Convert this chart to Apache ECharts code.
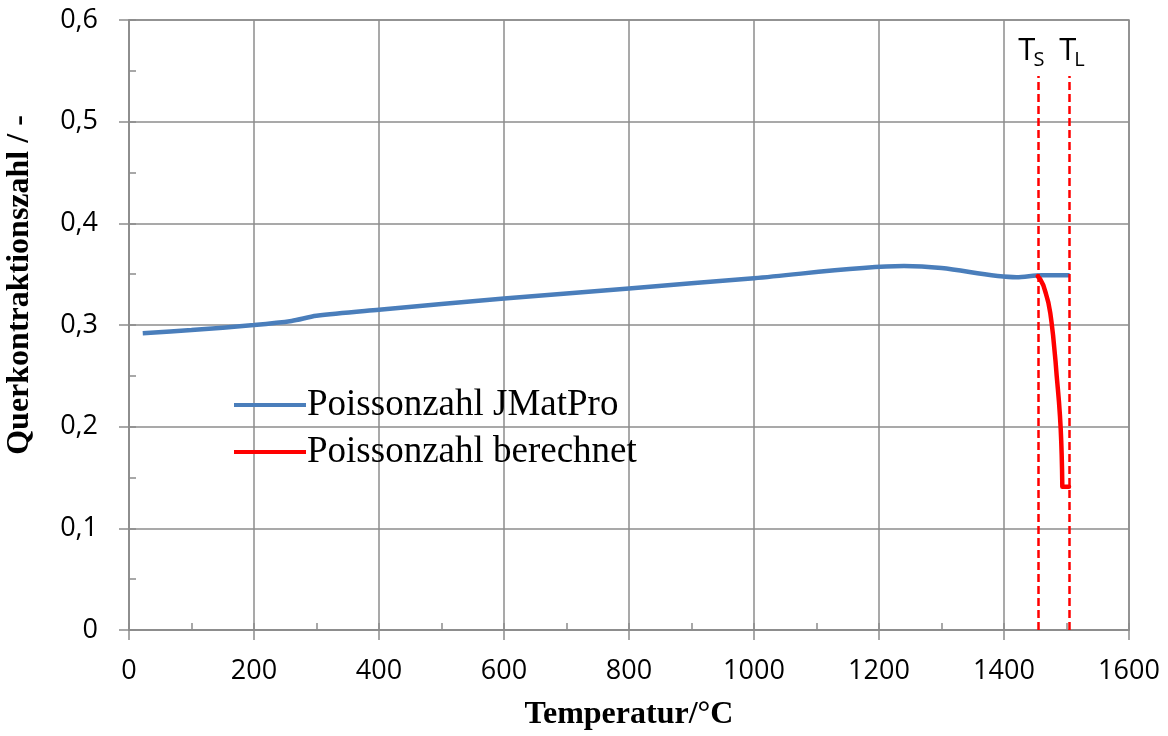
<!DOCTYPE html>
<html>
<head>
<meta charset="utf-8">
<script src="https://cdn.jsdelivr.net/npm/echarts@6/dist/echarts.min.js"></script>
<style>html,body{margin:0;padding:0;background:#fff}#c{width:1168px;height:736px}</style>
</head>
<body>
<div id="c"></div>
<script>
// Poisson's ratio over temperature
const jmatproT = [22, 100, 200, 260, 300, 400, 600, 800, 1000, 1240, 1300, 1420, 1460, 1505];
const jmatproV = [0.292, 0.295, 0.300, 0.304, 0.309, 0.315, 0.326, 0.336, 0.346, 0.358, 0.356, 0.347, 0.349, 0.349];
const calcT = [1454, 1458, 1463, 1467, 1471, 1474, 1476, 1478.5, 1480.5, 1482.5, 1484.3, 1486.2, 1488, 1489.5, 1490.7, 1491.6, 1492.3, 1492.9, 1493.3, 1504];
const calcV = [0.348, 0.345, 0.339, 0.331, 0.322, 0.312, 0.303, 0.290, 0.277, 0.264, 0.250, 0.237, 0.224, 0.211, 0.198, 0.185, 0.172, 0.157, 0.141, 0.141];
const solidusT = 1455;
const liquidusT = 1504;
const markerTop = 0.545;

const pairs = (a, b) => a.map((v, i) => [v, b[i]]);
const gridGray = '#8c8c8c';
const labelFont = { fontFamily: 'Open Sans', fontSize: 27, color: '#000' };
const titleFont = { fontFamily: 'Liberation Serif', fontWeight: 'bold', fontSize: 32, color: '#000' };

const chart = echarts.init(document.getElementById('c'), null, { renderer: 'canvas' });
chart.setOption({
  animation: false,
  backgroundColor: '#fff',
  grid: { left: 129, right: 39, top: 20, bottom: 104, show: true, borderColor: gridGray, borderWidth: 1.5 },
  legend: {
    left: 229, top: 380, orient: 'vertical', itemGap: 7,
    itemWidth: 72, itemHeight: 4,
    icon: 'path://M0,0 L18,0 L18,1 L0,1 Z',
    textStyle: { fontFamily: 'Liberation Serif', fontSize: 37, lineHeight: 40, color: '#000', padding: [0, 0, 0, -4] },
    data: ['Poissonzahl JMatPro', 'Poissonzahl berechnet']
  },
  graphic: [{
    type: 'text', x: 20, y: 285, rotation: Math.PI / 2,
    style: { text: 'Querkontraktionszahl / -', align: 'center', verticalAlign: 'middle',
             fontFamily: titleFont.fontFamily, fontWeight: 'bold', fontSize: 32, fill: '#000' }
  }],
  xAxis: [{
    type: 'value', min: 0, max: 1600, interval: 200,
    name: 'Temperatur/°C', nameLocation: 'middle', nameGap: 69,
    nameTextStyle: titleFont,
    axisLine: { show: true, lineStyle: { color: gridGray, width: 1.5 } },
    axisTick: { show: true, length: 10, lineStyle: { color: gridGray, width: 1.5 } },
    axisLabel: Object.assign({ margin: 28, formatter: v => String(v) }, labelFont),
    splitLine: { show: true, lineStyle: { color: gridGray, width: 1.5 } }
  }, {
    type: 'value', min: 0, max: 1600, interval: 100, position: 'bottom',
    axisLine: { show: false }, axisLabel: { show: false }, splitLine: { show: false },
    axisTick: { show: true, inside: true, length: 7, lineStyle: { color: gridGray, width: 1.5 } }
  }],
  yAxis: [{
    type: 'value', min: 0, max: 0.6, interval: 0.1,
    axisLine: { show: true, lineStyle: { color: gridGray, width: 1.5 } },
    axisTick: { show: true, length: 10, lineStyle: { color: gridGray, width: 1.5 } },
    axisLabel: Object.assign({ margin: 31, formatter: v => v === 0 ? '0' : v.toFixed(1).replace('.', ',') }, labelFont),
    splitLine: { show: true, lineStyle: { color: gridGray, width: 1.5 } }
  }, {
    type: 'value', min: 0, max: 0.6, interval: 0.05, position: 'left',
    axisLine: { show: false }, axisLabel: { show: false }, splitLine: { show: false },
    axisTick: { show: true, inside: true, length: 7, lineStyle: { color: gridGray, width: 1.5 } }
  }],
  series: [{
    name: 'Poissonzahl JMatPro', type: 'line', smooth: 0.3, showSymbol: false,
    data: pairs(jmatproT, jmatproV),
    lineStyle: { color: '#4a7ebb', width: 4.5 }, itemStyle: { color: '#4a7ebb' }, z: 3
  }, {
    name: 'Poissonzahl berechnet', type: 'line', smooth: false, showSymbol: false,
    data: pairs(calcT, calcV),
    lineStyle: { color: '#ff0000', width: 4.5, join: 'round', cap: 'round' }, itemStyle: { color: '#ff0000' }, z: 4,
    markLine: {
      silent: true, symbol: 'none',
      lineStyle: { color: '#ff0000', type: [8, 4], width: 2.5 },
      label: {
        show: true, position: 'end', distance: 6, color: '#000',
        rich: { s: { fontFamily: 'Open Sans', fontSize: 20, verticalAlign: 'bottom', padding: [18, 0, 0, -2], color: '#000' },
                t: { fontFamily: 'Open Sans', fontSize: 31, color: '#000' } }
      },
      data: [
        [{ coord: [solidusT, 0], label: { formatter: '{t|T}{s|S}', offset: [-7, 0] } }, { coord: [solidusT, markerTop] }],
        [{ coord: [liquidusT, 0], label: { formatter: '{t|T}{s|L}', offset: [3, 0] } }, { coord: [liquidusT, markerTop] }]
      ]
    }
  }]
});
</script>
</body>
</html>
